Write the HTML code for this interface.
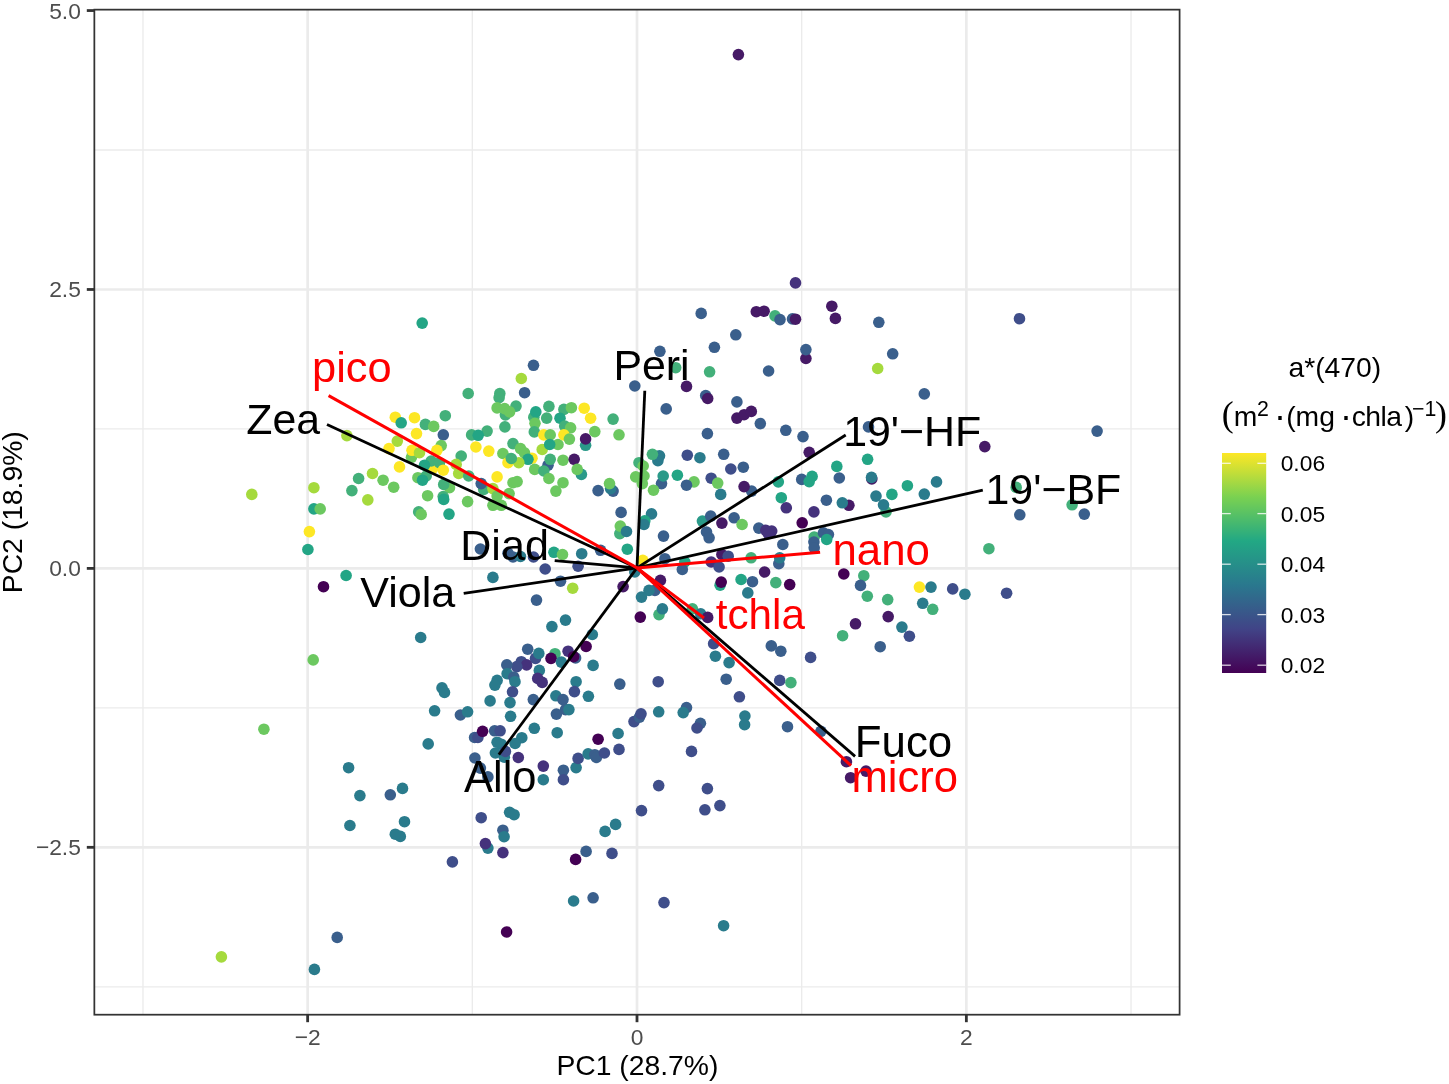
<!DOCTYPE html><html><head><meta charset="utf-8"><title>PCA biplot</title>
<style>html,body{margin:0;padding:0;background:#fff}svg{display:block}text{font-family:"Liberation Sans",Arial,Helvetica,sans-serif}</style></head><body>
<svg width="1449" height="1084" viewBox="0 0 1449 1084">
<rect width="1449" height="1084" fill="#fff"/>
<g stroke="#EBEBEB" fill="none">
<line x1="142.96" x2="142.96" y1="9.65" y2="1014.7" stroke-width="1.33"/>
<line x1="472.32" x2="472.32" y1="9.65" y2="1014.7" stroke-width="1.33"/>
<line x1="801.68" x2="801.68" y1="9.65" y2="1014.7" stroke-width="1.33"/>
<line x1="1131.04" x2="1131.04" y1="9.65" y2="1014.7" stroke-width="1.33"/>
<line y1="150.01" y2="150.01" x1="94.35" x2="1179.6" stroke-width="1.33"/>
<line y1="428.94" y2="428.94" x1="94.35" x2="1179.6" stroke-width="1.33"/>
<line y1="707.86" y2="707.86" x1="94.35" x2="1179.6" stroke-width="1.33"/>
<line y1="986.79" y2="986.79" x1="94.35" x2="1179.6" stroke-width="1.33"/>
<line x1="307.64" x2="307.64" y1="9.65" y2="1014.7" stroke-width="2.67"/>
<line x1="637.00" x2="637.00" y1="9.65" y2="1014.7" stroke-width="2.67"/>
<line x1="966.36" x2="966.36" y1="9.65" y2="1014.7" stroke-width="2.67"/>
<line y1="289.48" y2="289.48" x1="94.35" x2="1179.6" stroke-width="2.67"/>
<line y1="568.40" y2="568.40" x1="94.35" x2="1179.6" stroke-width="2.67"/>
<line y1="847.32" y2="847.32" x1="94.35" x2="1179.6" stroke-width="2.67"/>
</g>
<g>
<circle cx="505.4" cy="414.9" r="5.8" fill="#43B07A"/>
<circle cx="533.8" cy="417.2" r="5.8" fill="#43B07A"/>
<circle cx="585.6" cy="445.3" r="5.8" fill="#2A9A89"/>
<circle cx="411.5" cy="457.3" r="5.8" fill="#6CC860"/>
<circle cx="432.4" cy="468.7" r="5.8" fill="#FDE725"/>
<circle cx="548.0" cy="465.2" r="5.8" fill="#3A5F8C"/>
<circle cx="581.4" cy="474.4" r="5.8" fill="#2A9A89"/>
<circle cx="422.2" cy="323.1" r="5.8" fill="#23A585"/>
<circle cx="395.3" cy="417.2" r="5.8" fill="#FDE725"/>
<circle cx="401.2" cy="422.8" r="5.8" fill="#23A585"/>
<circle cx="414.5" cy="417.7" r="5.8" fill="#FDE725"/>
<circle cx="425.4" cy="424.4" r="5.8" fill="#43B07A"/>
<circle cx="433.7" cy="426.4" r="5.8" fill="#6CC860"/>
<circle cx="416.5" cy="433.6" r="5.8" fill="#FDE725"/>
<circle cx="346.9" cy="435.6" r="5.8" fill="#A5DA3D"/>
<circle cx="397.3" cy="441.1" r="5.8" fill="#A5DA3D"/>
<circle cx="389.0" cy="448.6" r="5.8" fill="#FDE725"/>
<circle cx="412.0" cy="450.3" r="5.8" fill="#FDE725"/>
<circle cx="533.5" cy="365.3" r="5.8" fill="#3A5F8C"/>
<circle cx="521.3" cy="378.5" r="5.8" fill="#A5DA3D"/>
<circle cx="524.6" cy="392.7" r="5.8" fill="#3A5F8C"/>
<circle cx="468.2" cy="393.5" r="5.8" fill="#43B07A"/>
<circle cx="499.8" cy="393.5" r="5.8" fill="#43B07A"/>
<circle cx="499.1" cy="397.7" r="5.8" fill="#43B07A"/>
<circle cx="516.0" cy="406.1" r="5.8" fill="#43B07A"/>
<circle cx="497.1" cy="407.9" r="5.8" fill="#6CC860"/>
<circle cx="504.6" cy="408.6" r="5.8" fill="#6CC860"/>
<circle cx="509.6" cy="411.9" r="5.8" fill="#6CC860"/>
<circle cx="445.3" cy="415.7" r="5.8" fill="#43B07A"/>
<circle cx="504.9" cy="426.9" r="5.8" fill="#43B07A"/>
<circle cx="487.1" cy="431.1" r="5.8" fill="#43B07A"/>
<circle cx="471.6" cy="434.9" r="5.8" fill="#43B07A"/>
<circle cx="478.2" cy="435.3" r="5.8" fill="#23A585"/>
<circle cx="443.3" cy="434.8" r="5.8" fill="#3A5F8C"/>
<circle cx="475.9" cy="447.0" r="5.8" fill="#FDE725"/>
<circle cx="488.8" cy="451.1" r="5.8" fill="#FDE725"/>
<circle cx="441.2" cy="445.6" r="5.8" fill="#6CC860"/>
<circle cx="513.0" cy="443.6" r="5.8" fill="#43B07A"/>
<circle cx="520.5" cy="448.6" r="5.8" fill="#6CC860"/>
<circle cx="535.8" cy="411.9" r="5.8" fill="#23A585"/>
<circle cx="535.0" cy="423.3" r="5.8" fill="#6CC860"/>
<circle cx="534.3" cy="431.9" r="5.8" fill="#43B07A"/>
<circle cx="548.9" cy="406.4" r="5.8" fill="#43B07A"/>
<circle cx="546.7" cy="418.1" r="5.8" fill="#43B07A"/>
<circle cx="543.8" cy="434.9" r="5.8" fill="#FDE725"/>
<circle cx="550.2" cy="434.9" r="5.8" fill="#6CC860"/>
<circle cx="558.0" cy="444.5" r="5.8" fill="#6CC860"/>
<circle cx="542.2" cy="449.5" r="5.8" fill="#A5DA3D"/>
<circle cx="563.9" cy="409.4" r="5.8" fill="#43B07A"/>
<circle cx="571.4" cy="407.7" r="5.8" fill="#6CC860"/>
<circle cx="560.0" cy="418.2" r="5.8" fill="#23A585"/>
<circle cx="564.7" cy="426.1" r="5.8" fill="#43B07A"/>
<circle cx="570.6" cy="427.8" r="5.8" fill="#6CC860"/>
<circle cx="563.9" cy="434.9" r="5.8" fill="#FDE725"/>
<circle cx="569.4" cy="439.1" r="5.8" fill="#6CC860"/>
<circle cx="584.2" cy="408.2" r="5.8" fill="#FDE725"/>
<circle cx="590.6" cy="418.2" r="5.8" fill="#FDE725"/>
<circle cx="585.6" cy="438.9" r="5.8" fill="#461A66"/>
<circle cx="594.8" cy="431.6" r="5.8" fill="#6CC860"/>
<circle cx="613.1" cy="419.1" r="5.8" fill="#43B07A"/>
<circle cx="619.0" cy="434.8" r="5.8" fill="#6CC860"/>
<circle cx="634.8" cy="386.0" r="5.8" fill="#3A5F8C"/>
<circle cx="659.9" cy="351.3" r="5.8" fill="#3A5F8C"/>
<circle cx="675.7" cy="367.7" r="5.8" fill="#43B07A"/>
<circle cx="666.2" cy="408.9" r="5.8" fill="#3A5F8C"/>
<circle cx="795.5" cy="282.9" r="5.8" fill="#45327C"/>
<circle cx="701.2" cy="313.4" r="5.8" fill="#3A5F8C"/>
<circle cx="756.3" cy="311.7" r="5.8" fill="#461A66"/>
<circle cx="764.1" cy="311.2" r="5.8" fill="#461A66"/>
<circle cx="775.0" cy="315.9" r="5.8" fill="#43B07A"/>
<circle cx="780.0" cy="319.6" r="5.8" fill="#3A5F8C"/>
<circle cx="792.5" cy="318.9" r="5.8" fill="#3A5F8C"/>
<circle cx="795.5" cy="319.2" r="5.8" fill="#461A66"/>
<circle cx="831.8" cy="306.2" r="5.8" fill="#461A66"/>
<circle cx="835.4" cy="318.4" r="5.8" fill="#461A66"/>
<circle cx="878.8" cy="322.3" r="5.8" fill="#3A5F8C"/>
<circle cx="735.8" cy="334.8" r="5.8" fill="#3A5F8C"/>
<circle cx="714.4" cy="347.3" r="5.8" fill="#3A5F8C"/>
<circle cx="805.9" cy="358.5" r="5.8" fill="#461A66"/>
<circle cx="805.9" cy="349.6" r="5.8" fill="#3A5F8C"/>
<circle cx="892.7" cy="353.8" r="5.8" fill="#3A5F8C"/>
<circle cx="877.7" cy="368.5" r="5.8" fill="#A5DA3D"/>
<circle cx="709.6" cy="371.8" r="5.8" fill="#43B07A"/>
<circle cx="768.6" cy="371.0" r="5.8" fill="#3A5F8C"/>
<circle cx="686.5" cy="386.4" r="5.8" fill="#461A66"/>
<circle cx="705.7" cy="395.5" r="5.8" fill="#3A5F8C"/>
<circle cx="707.7" cy="398.5" r="5.8" fill="#461A66"/>
<circle cx="736.9" cy="401.9" r="5.8" fill="#3A5F8C"/>
<circle cx="736.9" cy="418.1" r="5.8" fill="#461A66"/>
<circle cx="744.1" cy="414.7" r="5.8" fill="#461A66"/>
<circle cx="751.3" cy="411.4" r="5.8" fill="#461A66"/>
<circle cx="760.3" cy="423.6" r="5.8" fill="#3A5F8C"/>
<circle cx="785.8" cy="430.3" r="5.8" fill="#3A5F8C"/>
<circle cx="707.4" cy="433.6" r="5.8" fill="#3A5F8C"/>
<circle cx="803.0" cy="436.6" r="5.8" fill="#3A5F8C"/>
<circle cx="868.5" cy="426.9" r="5.8" fill="#3A5F8C"/>
<circle cx="1019.5" cy="318.7" r="5.8" fill="#3F4E8A"/>
<circle cx="924.3" cy="393.9" r="5.8" fill="#3A5F8C"/>
<circle cx="1097.1" cy="431.1" r="5.8" fill="#3A5F8C"/>
<circle cx="984.8" cy="446.6" r="5.8" fill="#461A66"/>
<circle cx="251.8" cy="494.4" r="5.8" fill="#A5DA3D"/>
<circle cx="313.9" cy="487.7" r="5.8" fill="#A5DA3D"/>
<circle cx="313.9" cy="508.9" r="5.8" fill="#23A585"/>
<circle cx="320.2" cy="508.9" r="5.8" fill="#6CC860"/>
<circle cx="309.4" cy="531.6" r="5.8" fill="#FDE725"/>
<circle cx="307.9" cy="549.5" r="5.8" fill="#23A585"/>
<circle cx="346.1" cy="575.5" r="5.8" fill="#23A585"/>
<circle cx="323.5" cy="586.7" r="5.8" fill="#440154"/>
<circle cx="358.6" cy="478.5" r="5.8" fill="#43B07A"/>
<circle cx="351.9" cy="490.6" r="5.8" fill="#43B07A"/>
<circle cx="372.5" cy="473.5" r="5.8" fill="#A5DA3D"/>
<circle cx="367.8" cy="499.9" r="5.8" fill="#A5DA3D"/>
<circle cx="383.1" cy="480.2" r="5.8" fill="#6CC860"/>
<circle cx="393.7" cy="487.2" r="5.8" fill="#6CC860"/>
<circle cx="399.5" cy="466.9" r="5.8" fill="#FDE725"/>
<circle cx="419.5" cy="452.7" r="5.8" fill="#A5DA3D"/>
<circle cx="431.2" cy="461.0" r="5.8" fill="#43B07A"/>
<circle cx="424.5" cy="465.2" r="5.8" fill="#23A585"/>
<circle cx="417.9" cy="477.7" r="5.8" fill="#6CC860"/>
<circle cx="426.2" cy="476.0" r="5.8" fill="#43B07A"/>
<circle cx="422.5" cy="480.2" r="5.8" fill="#23A585"/>
<circle cx="427.6" cy="495.7" r="5.8" fill="#6CC860"/>
<circle cx="418.7" cy="511.9" r="5.8" fill="#43B07A"/>
<circle cx="421.2" cy="514.4" r="5.8" fill="#6CC860"/>
<circle cx="461.2" cy="456.0" r="5.8" fill="#43B07A"/>
<circle cx="502.9" cy="453.5" r="5.8" fill="#6CC860"/>
<circle cx="532.0" cy="458.2" r="5.8" fill="#FDE725"/>
<circle cx="524.5" cy="452.8" r="5.8" fill="#6CC860"/>
<circle cx="528.0" cy="459.3" r="5.8" fill="#23A585"/>
<circle cx="550.2" cy="459.3" r="5.8" fill="#43B07A"/>
<circle cx="563.0" cy="460.2" r="5.8" fill="#6CC860"/>
<circle cx="574.2" cy="459.3" r="5.8" fill="#461A66"/>
<circle cx="577.2" cy="469.4" r="5.8" fill="#6CC860"/>
<circle cx="439.5" cy="462.7" r="5.8" fill="#43B07A"/>
<circle cx="443.3" cy="470.2" r="5.8" fill="#FDE725"/>
<circle cx="456.2" cy="464.4" r="5.8" fill="#A5DA3D"/>
<circle cx="458.7" cy="473.5" r="5.8" fill="#A5DA3D"/>
<circle cx="468.7" cy="476.0" r="5.8" fill="#43B07A"/>
<circle cx="508.0" cy="462.7" r="5.8" fill="#FDE725"/>
<circle cx="518.8" cy="462.7" r="5.8" fill="#A5DA3D"/>
<circle cx="534.7" cy="469.4" r="5.8" fill="#6CC860"/>
<circle cx="543.8" cy="471.0" r="5.8" fill="#43B07A"/>
<circle cx="548.9" cy="478.5" r="5.8" fill="#6CC860"/>
<circle cx="563.0" cy="482.7" r="5.8" fill="#6CC860"/>
<circle cx="555.9" cy="491.1" r="5.8" fill="#6CC860"/>
<circle cx="497.1" cy="476.9" r="5.8" fill="#FDE725"/>
<circle cx="513.0" cy="482.7" r="5.8" fill="#6CC860"/>
<circle cx="517.1" cy="481.6" r="5.8" fill="#6CC860"/>
<circle cx="483.7" cy="489.4" r="5.8" fill="#43B07A"/>
<circle cx="481.2" cy="483.6" r="5.8" fill="#3A5F8C"/>
<circle cx="492.9" cy="488.6" r="5.8" fill="#A5DA3D"/>
<circle cx="509.1" cy="493.6" r="5.8" fill="#6CC860"/>
<circle cx="497.1" cy="496.1" r="5.8" fill="#6CC860"/>
<circle cx="449.5" cy="487.7" r="5.8" fill="#6CC860"/>
<circle cx="443.2" cy="496.6" r="5.8" fill="#43B07A"/>
<circle cx="443.7" cy="499.4" r="5.8" fill="#23A585"/>
<circle cx="467.6" cy="501.6" r="5.8" fill="#6CC860"/>
<circle cx="492.9" cy="505.3" r="5.8" fill="#6CC860"/>
<circle cx="501.3" cy="505.3" r="5.8" fill="#6CC860"/>
<circle cx="449.0" cy="514.1" r="5.8" fill="#23A585"/>
<circle cx="598.1" cy="490.6" r="5.8" fill="#3A5F8C"/>
<circle cx="613.1" cy="491.1" r="5.8" fill="#3A5F8C"/>
<circle cx="610.6" cy="488.6" r="5.8" fill="#2A7B8C"/>
<circle cx="609.5" cy="483.6" r="5.8" fill="#6CC860"/>
<circle cx="621.1" cy="512.4" r="5.8" fill="#3A5F8C"/>
<circle cx="619.8" cy="533.6" r="5.8" fill="#43B07A"/>
<circle cx="620.3" cy="526.1" r="5.8" fill="#6CC860"/>
<circle cx="626.5" cy="531.5" r="5.8" fill="#2A7B8C"/>
<circle cx="627.3" cy="549.2" r="5.8" fill="#23A585"/>
<circle cx="600.6" cy="550.3" r="5.8" fill="#3A5F8C"/>
<circle cx="581.7" cy="553.7" r="5.8" fill="#2A7B8C"/>
<circle cx="553.9" cy="552.3" r="5.8" fill="#23A585"/>
<circle cx="562.5" cy="554.5" r="5.8" fill="#6CC860"/>
<circle cx="480.4" cy="549.0" r="5.8" fill="#3A5F8C"/>
<circle cx="508.0" cy="553.2" r="5.8" fill="#3A5F8C"/>
<circle cx="513.0" cy="557.0" r="5.8" fill="#3A5F8C"/>
<circle cx="520.5" cy="556.5" r="5.8" fill="#2A7B8C"/>
<circle cx="533.5" cy="557.0" r="5.8" fill="#3F4E8A"/>
<circle cx="545.2" cy="569.0" r="5.8" fill="#3F4E8A"/>
<circle cx="578.1" cy="566.2" r="5.8" fill="#3F4E8A"/>
<circle cx="492.9" cy="577.4" r="5.8" fill="#2A7B8C"/>
<circle cx="560.5" cy="581.2" r="5.8" fill="#3A5F8C"/>
<circle cx="572.7" cy="588.2" r="5.8" fill="#A5DA3D"/>
<circle cx="536.5" cy="600.1" r="5.8" fill="#3A5F8C"/>
<circle cx="623.1" cy="586.6" r="5.8" fill="#461A66"/>
<circle cx="634.8" cy="572.0" r="5.8" fill="#2A7B8C"/>
<circle cx="565.5" cy="620.1" r="5.8" fill="#2A7B8C"/>
<circle cx="551.9" cy="626.6" r="5.8" fill="#2A7B8C"/>
<circle cx="639.0" cy="462.7" r="5.8" fill="#43B07A"/>
<circle cx="657.9" cy="460.7" r="5.8" fill="#2A7B8C"/>
<circle cx="659.5" cy="455.8" r="5.8" fill="#2A7B8C"/>
<circle cx="643.2" cy="466.0" r="5.8" fill="#6CC860"/>
<circle cx="635.7" cy="476.9" r="5.8" fill="#6CC860"/>
<circle cx="644.0" cy="476.0" r="5.8" fill="#6CC860"/>
<circle cx="642.3" cy="483.6" r="5.8" fill="#6CC860"/>
<circle cx="661.5" cy="483.6" r="5.8" fill="#3A5F8C"/>
<circle cx="663.2" cy="476.0" r="5.8" fill="#2A9A89"/>
<circle cx="653.5" cy="490.2" r="5.8" fill="#6CC860"/>
<circle cx="677.4" cy="475.2" r="5.8" fill="#23A585"/>
<circle cx="651.5" cy="513.9" r="5.8" fill="#2A7B8C"/>
<circle cx="644.8" cy="520.8" r="5.8" fill="#23A585"/>
<circle cx="644.0" cy="524.5" r="5.8" fill="#2A7B8C"/>
<circle cx="663.5" cy="536.1" r="5.8" fill="#3A5F8C"/>
<circle cx="642.8" cy="560.3" r="5.8" fill="#FDE725"/>
<circle cx="664.9" cy="558.7" r="5.8" fill="#3A5F8C"/>
<circle cx="660.4" cy="580.4" r="5.8" fill="#461A66"/>
<circle cx="654.9" cy="590.4" r="5.8" fill="#3A5F8C"/>
<circle cx="649.0" cy="590.4" r="5.8" fill="#2A7B8C"/>
<circle cx="641.5" cy="597.1" r="5.8" fill="#2A7B8C"/>
<circle cx="659.0" cy="614.6" r="5.8" fill="#43B07A"/>
<circle cx="662.4" cy="608.8" r="5.8" fill="#2A7B8C"/>
<circle cx="640.3" cy="617.1" r="5.8" fill="#440154"/>
<circle cx="687.3" cy="455.2" r="5.8" fill="#3F4E8A"/>
<circle cx="699.9" cy="457.7" r="5.8" fill="#2A7B8C"/>
<circle cx="723.7" cy="454.3" r="5.8" fill="#3A5F8C"/>
<circle cx="730.8" cy="469.0" r="5.8" fill="#3F4E8A"/>
<circle cx="743.3" cy="467.2" r="5.8" fill="#3A5F8C"/>
<circle cx="694.0" cy="481.9" r="5.8" fill="#6CC860"/>
<circle cx="686.5" cy="485.2" r="5.8" fill="#3A5F8C"/>
<circle cx="711.2" cy="478.2" r="5.8" fill="#3F4E8A"/>
<circle cx="717.7" cy="483.1" r="5.8" fill="#6CC860"/>
<circle cx="720.7" cy="494.4" r="5.8" fill="#2A7B8C"/>
<circle cx="751.6" cy="491.1" r="5.8" fill="#3A5F8C"/>
<circle cx="744.1" cy="486.6" r="5.8" fill="#461A66"/>
<circle cx="778.3" cy="481.9" r="5.8" fill="#23A585"/>
<circle cx="801.7" cy="479.4" r="5.8" fill="#3A5F8C"/>
<circle cx="812.1" cy="476.4" r="5.8" fill="#23A585"/>
<circle cx="809.2" cy="481.6" r="5.8" fill="#23A585"/>
<circle cx="836.8" cy="466.4" r="5.8" fill="#23A585"/>
<circle cx="839.3" cy="478.0" r="5.8" fill="#3A5F8C"/>
<circle cx="867.6" cy="459.3" r="5.8" fill="#23A585"/>
<circle cx="871.8" cy="479.0" r="5.8" fill="#461A66"/>
<circle cx="871.5" cy="477.4" r="5.8" fill="#2A7B8C"/>
<circle cx="907.4" cy="485.7" r="5.8" fill="#23A585"/>
<circle cx="891.9" cy="494.4" r="5.8" fill="#23A585"/>
<circle cx="876.0" cy="496.1" r="5.8" fill="#2A7B8C"/>
<circle cx="886.0" cy="511.9" r="5.8" fill="#43B07A"/>
<circle cx="883.5" cy="504.8" r="5.8" fill="#2A7B8C"/>
<circle cx="781.3" cy="497.7" r="5.8" fill="#23A585"/>
<circle cx="786.3" cy="507.8" r="5.8" fill="#45327C"/>
<circle cx="826.4" cy="500.2" r="5.8" fill="#3A5F8C"/>
<circle cx="848.9" cy="505.3" r="5.8" fill="#461A66"/>
<circle cx="842.3" cy="502.8" r="5.8" fill="#2A7B8C"/>
<circle cx="813.9" cy="511.9" r="5.8" fill="#45327C"/>
<circle cx="802.2" cy="522.8" r="5.8" fill="#440154"/>
<circle cx="809.2" cy="452.3" r="5.8" fill="#461A66"/>
<circle cx="702.4" cy="521.1" r="5.8" fill="#2A9A89"/>
<circle cx="710.7" cy="516.1" r="5.8" fill="#3A5F8C"/>
<circle cx="721.9" cy="523.1" r="5.8" fill="#461A66"/>
<circle cx="734.1" cy="517.8" r="5.8" fill="#3A5F8C"/>
<circle cx="742.1" cy="524.5" r="5.8" fill="#6CC860"/>
<circle cx="706.5" cy="532.0" r="5.8" fill="#3A5F8C"/>
<circle cx="709.1" cy="537.8" r="5.8" fill="#3A5F8C"/>
<circle cx="758.8" cy="528.1" r="5.8" fill="#3A5F8C"/>
<circle cx="765.8" cy="530.3" r="5.8" fill="#45327C"/>
<circle cx="771.7" cy="531.1" r="5.8" fill="#45327C"/>
<circle cx="768.3" cy="533.6" r="5.8" fill="#45327C"/>
<circle cx="782.8" cy="544.5" r="5.8" fill="#3A5F8C"/>
<circle cx="814.2" cy="537.0" r="5.8" fill="#43B07A"/>
<circle cx="823.4" cy="532.8" r="5.8" fill="#3A5F8C"/>
<circle cx="828.4" cy="534.5" r="5.8" fill="#3A5F8C"/>
<circle cx="813.9" cy="542.0" r="5.8" fill="#3A5F8C"/>
<circle cx="814.2" cy="547.8" r="5.8" fill="#3A5F8C"/>
<circle cx="826.7" cy="539.5" r="5.8" fill="#23A585"/>
<circle cx="721.9" cy="554.5" r="5.8" fill="#461A66"/>
<circle cx="728.2" cy="556.2" r="5.8" fill="#3F4E8A"/>
<circle cx="711.2" cy="562.0" r="5.8" fill="#45327C"/>
<circle cx="719.1" cy="567.0" r="5.8" fill="#3F4E8A"/>
<circle cx="684.8" cy="562.0" r="5.8" fill="#23A585"/>
<circle cx="682.3" cy="569.5" r="5.8" fill="#3A5F8C"/>
<circle cx="751.1" cy="557.8" r="5.8" fill="#43B07A"/>
<circle cx="778.8" cy="563.7" r="5.8" fill="#3A5F8C"/>
<circle cx="779.7" cy="557.8" r="5.8" fill="#2A7B8C"/>
<circle cx="764.6" cy="572.0" r="5.8" fill="#461A66"/>
<circle cx="720.1" cy="585.2" r="5.8" fill="#23A585"/>
<circle cx="721.2" cy="582.1" r="5.8" fill="#440154"/>
<circle cx="741.1" cy="579.5" r="5.8" fill="#23A585"/>
<circle cx="752.5" cy="581.7" r="5.8" fill="#3A5F8C"/>
<circle cx="775.8" cy="582.6" r="5.8" fill="#43B07A"/>
<circle cx="789.7" cy="584.6" r="5.8" fill="#440154"/>
<circle cx="747.8" cy="592.9" r="5.8" fill="#2A7B8C"/>
<circle cx="843.8" cy="574.0" r="5.8" fill="#440154"/>
<circle cx="863.8" cy="575.7" r="5.8" fill="#43B07A"/>
<circle cx="860.5" cy="585.4" r="5.8" fill="#3A5F8C"/>
<circle cx="867.3" cy="596.2" r="5.8" fill="#43B07A"/>
<circle cx="887.7" cy="599.6" r="5.8" fill="#43B07A"/>
<circle cx="919.4" cy="587.1" r="5.8" fill="#FDE725"/>
<circle cx="888.2" cy="616.6" r="5.8" fill="#461A66"/>
<circle cx="855.5" cy="623.8" r="5.8" fill="#461A66"/>
<circle cx="901.9" cy="627.1" r="5.8" fill="#2A7B8C"/>
<circle cx="692.4" cy="608.8" r="5.8" fill="#43B07A"/>
<circle cx="700.7" cy="613.8" r="5.8" fill="#2A7B8C"/>
<circle cx="707.7" cy="617.4" r="5.8" fill="#461A66"/>
<circle cx="936.5" cy="481.9" r="5.8" fill="#2A7B8C"/>
<circle cx="924.3" cy="494.1" r="5.8" fill="#2A7B8C"/>
<circle cx="1016.2" cy="487.4" r="5.8" fill="#43B07A"/>
<circle cx="1072.1" cy="504.8" r="5.8" fill="#43B07A"/>
<circle cx="1019.8" cy="514.8" r="5.8" fill="#3A5F8C"/>
<circle cx="1084.3" cy="514.1" r="5.8" fill="#3A5F8C"/>
<circle cx="988.9" cy="548.7" r="5.8" fill="#43B07A"/>
<circle cx="931.0" cy="587.1" r="5.8" fill="#2A7B8C"/>
<circle cx="952.7" cy="588.9" r="5.8" fill="#3F4E8A"/>
<circle cx="964.9" cy="594.2" r="5.8" fill="#2A7B8C"/>
<circle cx="1006.6" cy="593.2" r="5.8" fill="#3F4E8A"/>
<circle cx="922.7" cy="603.3" r="5.8" fill="#2A7B8C"/>
<circle cx="932.7" cy="609.3" r="5.8" fill="#43B07A"/>
<circle cx="313.2" cy="659.9" r="5.8" fill="#6CC860"/>
<circle cx="263.9" cy="729.2" r="5.8" fill="#6CC860"/>
<circle cx="420.7" cy="637.5" r="5.8" fill="#2A7B8C"/>
<circle cx="434.6" cy="710.8" r="5.8" fill="#2A7B8C"/>
<circle cx="428.2" cy="743.9" r="5.8" fill="#2A7B8C"/>
<circle cx="348.6" cy="767.7" r="5.8" fill="#2A7B8C"/>
<circle cx="359.9" cy="795.6" r="5.8" fill="#2A7B8C"/>
<circle cx="390.3" cy="794.8" r="5.8" fill="#3A5F8C"/>
<circle cx="402.5" cy="788.4" r="5.8" fill="#2A7B8C"/>
<circle cx="442.0" cy="687.9" r="5.8" fill="#2A7B8C"/>
<circle cx="444.5" cy="692.4" r="5.8" fill="#2A7B8C"/>
<circle cx="460.4" cy="715.0" r="5.8" fill="#3A5F8C"/>
<circle cx="467.6" cy="711.8" r="5.8" fill="#2A7B8C"/>
<circle cx="592.3" cy="634.5" r="5.8" fill="#2A7B8C"/>
<circle cx="586.1" cy="646.5" r="5.8" fill="#440154"/>
<circle cx="527.7" cy="649.2" r="5.8" fill="#3A5F8C"/>
<circle cx="555.0" cy="653.7" r="5.8" fill="#43B07A"/>
<circle cx="551.0" cy="658.4" r="5.8" fill="#440154"/>
<circle cx="568.1" cy="651.2" r="5.8" fill="#45327C"/>
<circle cx="575.6" cy="657.9" r="5.8" fill="#3A5F8C"/>
<circle cx="573.6" cy="656.7" r="5.8" fill="#440154"/>
<circle cx="561.4" cy="662.1" r="5.8" fill="#2A7B8C"/>
<circle cx="535.5" cy="658.4" r="5.8" fill="#3F4E8A"/>
<circle cx="521.3" cy="661.7" r="5.8" fill="#3F4E8A"/>
<circle cx="526.6" cy="664.9" r="5.8" fill="#45327C"/>
<circle cx="516.8" cy="666.6" r="5.8" fill="#3F4E8A"/>
<circle cx="506.8" cy="664.9" r="5.8" fill="#3A5F8C"/>
<circle cx="539.3" cy="670.4" r="5.8" fill="#2A7B8C"/>
<circle cx="593.1" cy="665.4" r="5.8" fill="#2A7B8C"/>
<circle cx="507.1" cy="673.7" r="5.8" fill="#2A7B8C"/>
<circle cx="513.8" cy="677.1" r="5.8" fill="#3A5F8C"/>
<circle cx="515.0" cy="681.7" r="5.8" fill="#2A7B8C"/>
<circle cx="497.1" cy="680.4" r="5.8" fill="#2A7B8C"/>
<circle cx="494.9" cy="685.1" r="5.8" fill="#2A7B8C"/>
<circle cx="537.7" cy="678.4" r="5.8" fill="#45327C"/>
<circle cx="542.2" cy="682.4" r="5.8" fill="#45327C"/>
<circle cx="576.1" cy="681.7" r="5.8" fill="#2A7B8C"/>
<circle cx="512.5" cy="691.8" r="5.8" fill="#3F4E8A"/>
<circle cx="574.4" cy="691.6" r="5.8" fill="#3F4E8A"/>
<circle cx="619.8" cy="684.1" r="5.8" fill="#3A5F8C"/>
<circle cx="658.2" cy="681.7" r="5.8" fill="#3F4E8A"/>
<circle cx="490.1" cy="700.9" r="5.8" fill="#2A7B8C"/>
<circle cx="510.0" cy="702.6" r="5.8" fill="#2A7B8C"/>
<circle cx="533.3" cy="699.6" r="5.8" fill="#3A5F8C"/>
<circle cx="555.9" cy="695.8" r="5.8" fill="#2A7B8C"/>
<circle cx="563.0" cy="699.6" r="5.8" fill="#3A5F8C"/>
<circle cx="588.4" cy="696.3" r="5.8" fill="#2A7B8C"/>
<circle cx="565.5" cy="709.6" r="5.8" fill="#3A5F8C"/>
<circle cx="568.9" cy="709.6" r="5.8" fill="#2A7B8C"/>
<circle cx="556.4" cy="714.1" r="5.8" fill="#3A5F8C"/>
<circle cx="510.6" cy="716.3" r="5.8" fill="#2A7B8C"/>
<circle cx="534.3" cy="728.3" r="5.8" fill="#2A7B8C"/>
<circle cx="557.2" cy="732.7" r="5.8" fill="#2A7B8C"/>
<circle cx="494.6" cy="730.8" r="5.8" fill="#3A5F8C"/>
<circle cx="500.1" cy="730.8" r="5.8" fill="#3F4E8A"/>
<circle cx="474.6" cy="737.5" r="5.8" fill="#3A5F8C"/>
<circle cx="477.9" cy="737.5" r="5.8" fill="#3F4E8A"/>
<circle cx="497.1" cy="742.2" r="5.8" fill="#2A7B8C"/>
<circle cx="501.3" cy="744.2" r="5.8" fill="#2A7B8C"/>
<circle cx="521.8" cy="737.7" r="5.8" fill="#2A7B8C"/>
<circle cx="515.1" cy="743.5" r="5.8" fill="#2A7B8C"/>
<circle cx="495.4" cy="753.0" r="5.8" fill="#2A7B8C"/>
<circle cx="504.3" cy="757.2" r="5.8" fill="#2A7B8C"/>
<circle cx="505.4" cy="751.4" r="5.8" fill="#3F4E8A"/>
<circle cx="518.3" cy="757.5" r="5.8" fill="#45327C"/>
<circle cx="474.9" cy="758.0" r="5.8" fill="#3A5F8C"/>
<circle cx="480.4" cy="768.1" r="5.8" fill="#3A5F8C"/>
<circle cx="487.9" cy="776.9" r="5.8" fill="#3A5F8C"/>
<circle cx="543.3" cy="766.1" r="5.8" fill="#45327C"/>
<circle cx="543.3" cy="779.7" r="5.8" fill="#2A7B8C"/>
<circle cx="563.4" cy="770.2" r="5.8" fill="#3A5F8C"/>
<circle cx="563.4" cy="779.7" r="5.8" fill="#3F4E8A"/>
<circle cx="576.1" cy="767.6" r="5.8" fill="#2A7B8C"/>
<circle cx="578.1" cy="758.4" r="5.8" fill="#3F4E8A"/>
<circle cx="588.1" cy="753.9" r="5.8" fill="#2A7B8C"/>
<circle cx="594.8" cy="754.7" r="5.8" fill="#3A5F8C"/>
<circle cx="596.4" cy="757.5" r="5.8" fill="#3A5F8C"/>
<circle cx="604.4" cy="753.0" r="5.8" fill="#3F4E8A"/>
<circle cx="619.0" cy="749.4" r="5.8" fill="#3F4E8A"/>
<circle cx="598.1" cy="739.2" r="5.8" fill="#440154"/>
<circle cx="618.1" cy="733.5" r="5.8" fill="#2A7B8C"/>
<circle cx="634.0" cy="721.6" r="5.8" fill="#3F4E8A"/>
<circle cx="639.5" cy="717.1" r="5.8" fill="#3A5F8C"/>
<circle cx="641.0" cy="713.8" r="5.8" fill="#3F4E8A"/>
<circle cx="658.7" cy="711.8" r="5.8" fill="#2A7B8C"/>
<circle cx="658.7" cy="785.6" r="5.8" fill="#3F4E8A"/>
<circle cx="641.5" cy="810.6" r="5.8" fill="#3F4E8A"/>
<circle cx="713.6" cy="643.7" r="5.8" fill="#3F4E8A"/>
<circle cx="715.4" cy="656.2" r="5.8" fill="#2A7B8C"/>
<circle cx="729.1" cy="662.6" r="5.8" fill="#2A7B8C"/>
<circle cx="771.3" cy="645.9" r="5.8" fill="#3A5F8C"/>
<circle cx="780.8" cy="651.2" r="5.8" fill="#3A5F8C"/>
<circle cx="810.6" cy="657.4" r="5.8" fill="#3F4E8A"/>
<circle cx="842.6" cy="635.7" r="5.8" fill="#43B07A"/>
<circle cx="880.2" cy="646.7" r="5.8" fill="#3A5F8C"/>
<circle cx="909.4" cy="636.2" r="5.8" fill="#3F4E8A"/>
<circle cx="726.2" cy="679.2" r="5.8" fill="#3A5F8C"/>
<circle cx="779.7" cy="680.4" r="5.8" fill="#3F4E8A"/>
<circle cx="790.9" cy="682.6" r="5.8" fill="#43B07A"/>
<circle cx="739.4" cy="696.8" r="5.8" fill="#3F4E8A"/>
<circle cx="686.5" cy="707.6" r="5.8" fill="#3A5F8C"/>
<circle cx="683.2" cy="712.6" r="5.8" fill="#2A7B8C"/>
<circle cx="700.4" cy="723.3" r="5.8" fill="#3A5F8C"/>
<circle cx="697.0" cy="728.0" r="5.8" fill="#3F4E8A"/>
<circle cx="744.9" cy="716.0" r="5.8" fill="#2A7B8C"/>
<circle cx="744.6" cy="724.7" r="5.8" fill="#2A7B8C"/>
<circle cx="787.5" cy="726.7" r="5.8" fill="#3A5F8C"/>
<circle cx="820.9" cy="731.3" r="5.8" fill="#3A5F8C"/>
<circle cx="691.5" cy="751.4" r="5.8" fill="#3F4E8A"/>
<circle cx="846.4" cy="761.7" r="5.8" fill="#461A66"/>
<circle cx="866.0" cy="771.1" r="5.8" fill="#461A66"/>
<circle cx="850.6" cy="777.7" r="5.8" fill="#461A66"/>
<circle cx="707.4" cy="788.6" r="5.8" fill="#3F4E8A"/>
<circle cx="719.9" cy="805.6" r="5.8" fill="#3F4E8A"/>
<circle cx="704.9" cy="809.8" r="5.8" fill="#3F4E8A"/>
<circle cx="349.9" cy="825.5" r="5.8" fill="#2A7B8C"/>
<circle cx="404.5" cy="821.7" r="5.8" fill="#2A7B8C"/>
<circle cx="400.3" cy="836.4" r="5.8" fill="#2A7B8C"/>
<circle cx="395.3" cy="834.2" r="5.8" fill="#2A7B8C"/>
<circle cx="337.2" cy="937.4" r="5.8" fill="#3A5F8C"/>
<circle cx="221.4" cy="956.9" r="5.8" fill="#A5DA3D"/>
<circle cx="314.4" cy="969.4" r="5.8" fill="#2A7B8C"/>
<circle cx="481.2" cy="817.7" r="5.8" fill="#3F4E8A"/>
<circle cx="509.6" cy="812.3" r="5.8" fill="#2A7B8C"/>
<circle cx="514.1" cy="814.7" r="5.8" fill="#2A7B8C"/>
<circle cx="502.9" cy="830.2" r="5.8" fill="#3A5F8C"/>
<circle cx="504.1" cy="836.7" r="5.8" fill="#2A7B8C"/>
<circle cx="487.9" cy="848.1" r="5.8" fill="#2A7B8C"/>
<circle cx="485.4" cy="843.6" r="5.8" fill="#45327C"/>
<circle cx="502.9" cy="852.6" r="5.8" fill="#45327C"/>
<circle cx="452.4" cy="861.9" r="5.8" fill="#3F4E8A"/>
<circle cx="615.6" cy="824.4" r="5.8" fill="#2A7B8C"/>
<circle cx="605.1" cy="831.4" r="5.8" fill="#2A7B8C"/>
<circle cx="586.1" cy="851.4" r="5.8" fill="#3A5F8C"/>
<circle cx="612.0" cy="853.4" r="5.8" fill="#3F4E8A"/>
<circle cx="575.6" cy="859.4" r="5.8" fill="#440154"/>
<circle cx="573.6" cy="901.0" r="5.8" fill="#2A7B8C"/>
<circle cx="593.1" cy="897.8" r="5.8" fill="#3A5F8C"/>
<circle cx="664.0" cy="902.6" r="5.8" fill="#3F4E8A"/>
<circle cx="506.6" cy="932.0" r="5.8" fill="#440154"/>
<circle cx="723.6" cy="925.7" r="5.8" fill="#2A7B8C"/>
<circle cx="738.4" cy="54.6" r="5.8" fill="#461A66"/>
<circle cx="436.9" cy="450.3" r="5.8" fill="#FDE725"/>
<circle cx="549.7" cy="444.5" r="5.8" fill="#23A585"/>
<circle cx="511.3" cy="458.5" r="5.8" fill="#43B07A"/>
<circle cx="443.7" cy="484.4" r="5.8" fill="#43B07A"/>
<circle cx="652.4" cy="454.3" r="5.8" fill="#43B07A"/>
<circle cx="538.8" cy="653.4" r="5.8" fill="#2A7B8C"/>
<circle cx="482.6" cy="731.3" r="5.8" fill="#440154"/>
</g>
<g stroke-linecap="butt" fill="none">
<line x1="637.0" y1="567.9" x2="327" y2="424.6" stroke="#000" stroke-width="2.8"/>
<line x1="637.0" y1="567.9" x2="644.8" y2="390.8" stroke="#000" stroke-width="2.8"/>
<line x1="637.0" y1="567.9" x2="845.7" y2="435" stroke="#000" stroke-width="2.8"/>
<line x1="637.0" y1="567.9" x2="982.8" y2="490.2" stroke="#000" stroke-width="2.8"/>
<line x1="637.0" y1="567.9" x2="855.1" y2="756.4" stroke="#000" stroke-width="2.8"/>
<line x1="637.0" y1="567.9" x2="498.8" y2="754.7" stroke="#000" stroke-width="2.8"/>
<line x1="637.0" y1="567.9" x2="463.7" y2="593.4" stroke="#000" stroke-width="2.8"/>
<line x1="637.0" y1="567.9" x2="554.7" y2="560.7" stroke="#000" stroke-width="2.8"/>
<line x1="637.0" y1="567.9" x2="328.6" y2="395.6" stroke="#FF0000" stroke-width="3"/>
<line x1="637.0" y1="567.9" x2="820.1" y2="552.3" stroke="#FF0000" stroke-width="3"/>
<line x1="637.0" y1="567.9" x2="704" y2="618" stroke="#FF0000" stroke-width="3"/>
<line x1="637.0" y1="567.9" x2="851" y2="765.6" stroke="#FF0000" stroke-width="3"/>
</g>
<g>
<text id="lab0" x="246.24" y="434.4" fill="#000" font-size="42.8">Zea</text>
<text id="lab1" x="613.38" y="379.8" fill="#000" font-size="42.9">Peri</text>
<text id="lab2" x="843.13" y="446.4" fill="#000" font-size="42.9">19'−HF</text>
<text id="lab3" x="985.53" y="503.7" fill="#000" font-size="42.9">19'−BF</text>
<text id="lab4" x="854.81" y="757" fill="#000" font-size="43.8">Fuco</text>
<text id="lab5" x="464.02" y="791.5" fill="#000" font-size="43.5">Allo</text>
<text id="lab6" x="360.21" y="606.7" fill="#000" font-size="43.1">Viola</text>
<text id="lab7" x="460.26" y="560.3" fill="#000" font-size="43.1">Diad</text>
<text id="lab8" x="312.05" y="381.5" fill="#FF0000" font-size="43.4">pico</text>
<text id="lab9" x="832.49" y="564.5" fill="#FF0000" font-size="43.8">nano</text>
<text id="lab10" x="715.76" y="629" fill="#FF0000" font-size="42.2">tchla</text>
<text id="lab11" x="851.40" y="791.8" fill="#FF0000" font-size="43.6">micro</text>
</g>
<rect x="94.35" y="9.65" width="1085.25" height="1005.05" fill="none" stroke="#333333" stroke-width="1.75"/>
<g stroke="#333333" stroke-width="2.8">
<line x1="307.64" x2="307.64" y1="1014.7" y2="1022.2"/>
<line x1="637.00" x2="637.00" y1="1014.7" y2="1022.2"/>
<line x1="966.36" x2="966.36" y1="1014.7" y2="1022.2"/>
<line y1="10.55" y2="10.55" x1="94.35" x2="86.8"/>
<line y1="289.48" y2="289.48" x1="94.35" x2="86.8"/>
<line y1="568.40" y2="568.40" x1="94.35" x2="86.8"/>
<line y1="847.32" y2="847.32" x1="94.35" x2="86.8"/>
</g>
<g font-size="22.8" fill="#4D4D4D">
<text x="307.64" y="1044.7" text-anchor="middle">−2</text>
<text x="637.00" y="1044.7" text-anchor="middle">0</text>
<text x="966.36" y="1044.7" text-anchor="middle">2</text>
<text x="80.9" y="18.50" text-anchor="end">5.0</text>
<text x="80.9" y="297.43" text-anchor="end">2.5</text>
<text x="80.9" y="576.35" text-anchor="end">0.0</text>
<text x="80.9" y="855.27" text-anchor="end">−2.5</text>
</g>
<g font-size="28.3" fill="#000">
<text id="xt" x="637.4" y="1075.1" text-anchor="middle">PC1 (28.7%)</text>
<text id="yt" transform="translate(22.3,512.2) rotate(-90)" text-anchor="middle">PC2 (18.9%)</text>
</g>
<defs><linearGradient id="vg" x1="0" y1="1" x2="0" y2="0">
<stop offset="0.0000" stop-color="#440154"/>
<stop offset="0.2000" stop-color="#414487"/>
<stop offset="0.4000" stop-color="#2A788E"/>
<stop offset="0.6000" stop-color="#22A884"/>
<stop offset="0.8000" stop-color="#7AD151"/>
<stop offset="1.0000" stop-color="#FDE725"/>
</linearGradient></defs>
<rect x="1222.0" y="453.0" width="44.2" height="220" fill="url(#vg)"/>
<g stroke="#fff" stroke-opacity="0.8" stroke-width="1.3">
<line x1="1222.0" x2="1230.8" y1="463.3" y2="463.3"/><line x1="1257.4" x2="1266.2" y1="463.3" y2="463.3"/>
<line x1="1222.0" x2="1230.8" y1="513.6" y2="513.6"/><line x1="1257.4" x2="1266.2" y1="513.6" y2="513.6"/>
<line x1="1222.0" x2="1230.8" y1="564.2" y2="564.2"/><line x1="1257.4" x2="1266.2" y1="564.2" y2="564.2"/>
<line x1="1222.0" x2="1230.8" y1="614.6" y2="614.6"/><line x1="1257.4" x2="1266.2" y1="614.6" y2="614.6"/>
<line x1="1222.0" x2="1230.8" y1="665.2" y2="665.2"/><line x1="1257.4" x2="1266.2" y1="665.2" y2="665.2"/>
</g>
<g font-size="22.8" fill="#000">
<text x="1280.7" y="471.3">0.06</text>
<text x="1280.7" y="521.6">0.05</text>
<text x="1280.7" y="572.2">0.04</text>
<text x="1280.7" y="622.6">0.03</text>
<text x="1280.7" y="673.2">0.02</text>
</g>
<g font-size="28.3" fill="#000">
<text id="lt1" x="1334.8" y="377.3" text-anchor="middle">a*(470)</text>
<text id="lt2a" x="1221.7" y="426.1" font-size="35.8" style="font-family:'Liberation Serif',serif">(</text>
<text id="lt2b" x="1233.8" y="426.1">m</text>
<text id="lt2c" x="1257.1" y="416.2" font-size="21.3">2</text>
<text id="lt2d" x="1274.1" y="428.1" font-size="36">·</text>
<text id="lt2e" x="1286.15" y="426.1">(mg</text>
<text id="lt2f" x="1339.9" y="427.9" font-size="36">·</text>
<text id="lt2g" x="1351.8" y="426.1" textLength="50.1" lengthAdjust="spacing">chla</text>
<text id="lt2g2" x="1404.8" y="426.1">)</text>
<text id="lt2h" x="1412.05" y="416.2" font-size="21.3">−1</text>
<text id="lt2i" x="1435.05" y="426.1" font-size="35.8" style="font-family:'Liberation Serif',serif">)</text>
</g>
</svg></body></html>
